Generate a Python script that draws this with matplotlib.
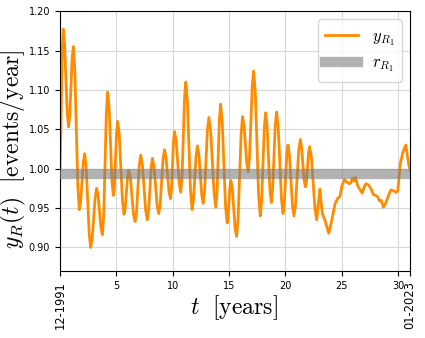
import matplotlib
matplotlib.use("Agg")
import matplotlib.pyplot as plt

plt.rcParams['mathtext.fontset'] = 'cm'

# valores (anos desde 12-1991, taxa)
t_anos = [0.00, 0.07, 0.145, 0.22, 0.29, 0.41, 0.53, 0.65, 0.77, 0.875, 0.98, 1.085, 1.19,
          1.32, 1.455, 1.59, 1.72, 1.84, 1.96, 2.08, 2.20, 2.33, 2.465, 2.60, 2.73,
          2.86, 2.995, 3.13, 3.26, 3.39, 3.515, 3.64, 3.77, 3.89, 4.005, 4.12, 4.24,
          4.365, 4.49, 4.615, 4.74, 4.84, 4.935, 5.03, 5.13, 5.27, 5.41, 5.55, 5.69,
          5.795, 5.90, 6.005, 6.11, 6.25, 6.39, 6.53, 6.67, 6.795, 6.92, 7.045, 7.17,
          7.32, 7.465, 7.61, 7.76, 7.87, 7.985, 8.10, 8.21, 8.35, 8.49, 8.63, 8.77,
          8.90, 9.025, 9.15, 9.28, 9.41, 9.545, 9.68, 9.81, 9.90, 9.99, 10.08, 10.17,
          10.31, 10.45, 10.59, 10.73, 10.84, 10.95, 11.06, 11.17, 11.31, 11.45, 11.59, 11.73,
          11.85, 11.97, 12.09, 12.21, 12.335, 12.46, 12.585, 12.71, 12.84, 12.965, 13.09, 13.22,
          13.375, 13.53, 13.685, 13.84, 13.945, 14.05, 14.155, 14.26, 14.405, 14.55, 14.695, 14.84,
          14.92, 15.005, 15.09, 15.17, 15.30, 15.425, 15.55, 15.68, 15.81, 15.945, 16.08, 16.21,
          16.335, 16.46, 16.585, 16.71, 16.83, 16.95, 17.07, 17.19, 17.34, 17.485, 17.63, 17.78,
          17.90, 18.02, 18.14, 18.26, 18.385, 18.51, 18.635, 18.76, 18.88, 18.995, 19.11, 19.23,
          19.37, 19.515, 19.66, 19.80, 19.91, 20.02, 20.13, 20.24, 20.37, 20.505, 20.64, 20.77,
          20.91, 21.05, 21.19, 21.33, 21.44, 21.555, 21.67, 21.78, 21.88, 21.975, 22.07, 22.17,
          22.325, 22.48, 22.635, 22.79, 22.93, 23.08, 23.18, 23.29, 23.53, 23.86, 24.15, 24.42,
          24.66, 24.86, 25.04, 25.24, 25.46, 25.64, 25.81, 25.96, 26.12, 26.24, 26.41, 26.65,
          26.83, 27.00, 27.18, 27.41, 27.62, 27.82, 28.04, 28.21, 28.36, 28.51, 28.71, 28.93,
          29.16, 29.37, 29.60, 29.84, 29.99, 30.20, 30.44, 30.70, 30.97, 31.08]
taxa = [0.998, 1.040, 1.100, 1.155, 1.177, 1.159, 1.115, 1.071, 1.053, 1.068, 1.104, 1.140, 1.155,
        1.125, 1.052, 0.978, 0.948, 0.958, 0.984, 1.009, 1.019, 1.002, 0.960, 0.917, 0.900,
        0.911, 0.938, 0.964, 0.975, 0.966, 0.946, 0.925, 0.916, 0.942, 1.007, 1.071, 1.097,
        1.078, 1.032, 0.985, 0.966, 0.980, 1.013, 1.046, 1.060, 1.043, 1.001, 0.959, 0.942,
        0.950, 0.970, 0.990, 0.998, 0.989, 0.966, 0.942, 0.933, 0.945, 0.975, 1.005, 1.017,
        1.005, 0.976, 0.947, 0.935, 0.946, 0.974, 1.002, 1.013, 1.003, 0.978, 0.953, 0.943,
        0.955, 0.984, 1.012, 1.024, 1.015, 0.993, 0.971, 0.962, 0.974, 1.005, 1.035, 1.047,
        1.036, 1.009, 0.981, 0.970, 0.990, 1.040, 1.090, 1.110, 1.086, 1.029, 0.972, 0.948,
        0.960, 0.989, 1.017, 1.029, 1.018, 0.993, 0.967, 0.956, 0.972, 1.011, 1.049, 1.065,
        1.048, 1.008, 0.968, 0.951, 0.970, 1.017, 1.063, 1.082, 1.060, 1.007, 0.953, 0.931,
        0.939, 0.958, 0.977, 0.985, 0.975, 0.950, 0.924, 0.914, 0.936, 0.990, 1.044, 1.066,
        1.056, 1.031, 1.006, 0.996, 1.015, 1.060, 1.105, 1.124, 1.097, 1.032, 0.967, 0.940,
        0.959, 1.006, 1.052, 1.071, 1.054, 1.014, 0.974, 0.957, 0.974, 1.015, 1.055, 1.072,
        1.053, 1.008, 0.962, 0.943, 0.956, 0.987, 1.017, 1.030, 1.017, 0.985, 0.953, 0.940,
        0.954, 0.989, 1.023, 1.037, 1.028, 1.007, 0.986, 0.977, 0.984, 1.003, 1.021, 1.028,
        1.014, 0.982, 0.949, 0.935, 0.955, 0.974, 0.958, 0.943, 0.934, 0.918, 0.936, 0.956,
        0.9625, 0.965, 0.979, 0.986, 0.983, 0.981, 0.982, 0.988, 0.984, 0.989, 0.979, 0.973,
        0.969, 0.977, 0.981, 0.979, 0.974, 0.967, 0.966, 0.964, 0.959, 0.960, 0.951, 0.957,
        0.966, 0.973, 0.972, 0.970, 0.972, 1.006, 1.021, 1.030, 1.004, 0.998]

taxa_media = 0.9935
fim = 31.08
xticks_pos = [0, 5, 10, 15, 20, 25, 30, fim]
xticks_lab = ['12-1991', '5', '10', '15', '20', '25', '30', '01-2023']
yticks_pos = [0.90, 0.95, 1.00, 1.05, 1.10, 1.15, 1.20]

fig = plt.figure(figsize=(4.25, 3.38), dpi=100)
ax = fig.add_axes([0.141, 0.198, 0.824, 0.769])
ax.plot(t_anos, taxa, color='darkorange', lw=2, label=r'$y_{R_1}$', zorder=2)
ax.axhline(taxa_media, color='gray', alpha=0.6, lw=7.4, label=r'$r_{R_1}$', zorder=3)

ax.set_xlim(0, fim)
ax.set_ylim(0.87, 1.20)
ax.set_xticks(xticks_pos)
ax.set_xticklabels(xticks_lab, fontsize=7)
for i in [0, -1]:
    ax.get_xticklabels()[i].set_rotation(90)
    ax.get_xticklabels()[i].set_fontsize(8.3)
ax.set_yticks(yticks_pos)
ax.set_yticklabels(['%.2f' % v for v in yticks_pos], fontsize=7)
ax.grid(True, color='#d8d8d8', lw=0.8)
ax.set_axisbelow(True)

ax.set_xlabel(r'$t\ \ \mathrm{[years]}$', fontsize=17)
ax.xaxis.set_label_coords(0.497, -0.085)
ax.set_ylabel(r'$y_R(t)\ \ \mathrm{[events/year]}$', fontsize=17)
ax.yaxis.set_label_coords(-0.092, 0.47)
ax.legend(loc='upper right', fontsize=12, borderpad=0.45, labelspacing=0.35)

fig.savefig('out.png', dpi=100)
